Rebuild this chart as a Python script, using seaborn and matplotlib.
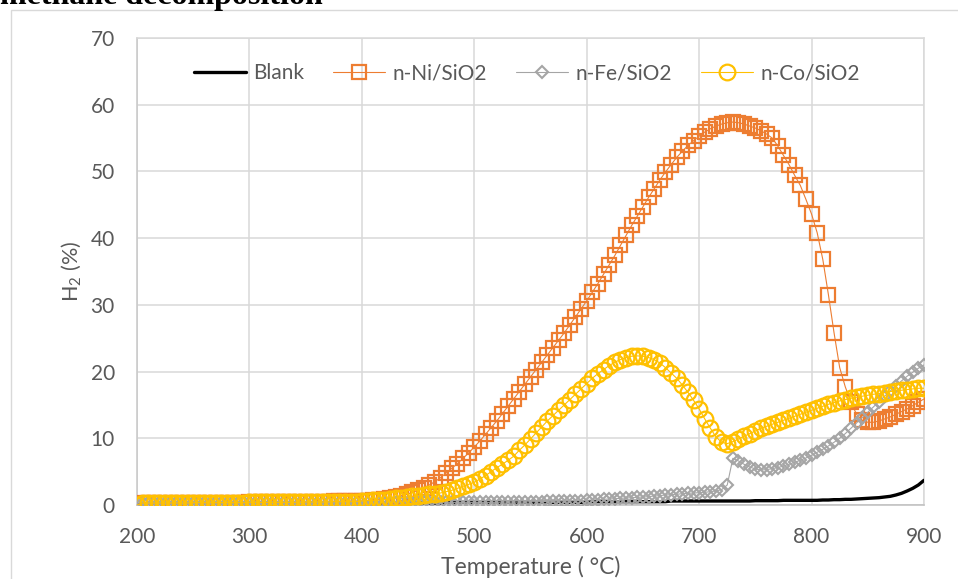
import matplotlib
matplotlib.use("Agg")
import matplotlib.pyplot as plt
from matplotlib.patches import Rectangle
import seaborn as sns

# Temperature grid (°C), sampled every 5 degrees
temperature = list(range(200, 905, 5))

# H2 concentration (%) for each catalyst run
blank = [
    0.0, 0.2, 0.2, 0.2, 0.2, 0.2, 0.2, 0.2, 0.2, 0.2,
    0.2, 0.2, 0.2, 0.2, 0.2, 0.2, 0.2, 0.2, 0.2, 0.2,
    0.3, 0.3, 0.3, 0.3, 0.3, 0.3, 0.3, 0.3, 0.3, 0.3,
    0.3, 0.3, 0.3, 0.3, 0.3, 0.3, 0.3, 0.3, 0.3, 0.3,
    0.3, 0.3, 0.3, 0.3, 0.3, 0.3, 0.3, 0.3, 0.3, 0.3,
    0.3, 0.3, 0.3, 0.3, 0.3, 0.4, 0.4, 0.4, 0.4, 0.4,
    0.4, 0.4, 0.4, 0.4, 0.4, 0.4, 0.4, 0.4, 0.4, 0.4,
    0.4, 0.4, 0.4, 0.4, 0.4, 0.4, 0.4, 0.4, 0.4, 0.4,
    0.5, 0.5, 0.5, 0.5, 0.5, 0.5, 0.5, 0.5, 0.5, 0.5,
    0.5, 0.5, 0.5, 0.5, 0.5, 0.6, 0.6, 0.6, 0.6, 0.6,
    0.6, 0.6, 0.6, 0.6, 0.6, 0.6, 0.6, 0.6, 0.6, 0.6,
    0.65, 0.65, 0.65, 0.65, 0.65, 0.7, 0.7, 0.7, 0.7, 0.7,
    0.7, 0.7, 0.75, 0.75, 0.8, 0.8, 0.85, 0.85, 0.9, 0.95,
    1.0, 1.05, 1.1, 1.2, 1.3, 1.5, 1.75, 2.1, 2.5, 3.0,
    3.7,
]

ni_sio2 = [
    0.0, 0.3, 0.3, 0.3, 0.3, 0.3, 0.3, 0.3, 0.3, 0.3,
    0.3, 0.3, 0.3, 0.3, 0.3, 0.35, 0.35, 0.35, 0.35, 0.35,
    0.4, 0.4, 0.4, 0.4, 0.4, 0.4, 0.45, 0.45, 0.45, 0.45,
    0.5, 0.5, 0.5, 0.5, 0.5, 0.55, 0.55, 0.55, 0.6, 0.6,
    0.6, 0.65, 0.7, 0.8, 0.9, 1.0, 1.2, 1.4, 1.6, 1.9,
    2.2, 2.6, 3.0, 3.5, 4.1, 4.8, 5.5, 6.2, 7.0, 7.8,
    8.7, 9.6, 10.6, 11.6, 12.6, 13.7, 14.8, 15.9, 17.0, 18.1,
    19.2, 20.3, 21.4, 22.5, 23.6, 24.7, 25.8, 27.0, 28.2, 29.4,
    30.6, 31.9, 33.2, 34.6, 36.0, 37.4, 38.9, 40.4, 41.9, 43.3,
    44.7, 46.1, 47.4, 48.7, 49.9, 51.0, 52.1, 53.0, 53.9, 54.6,
    55.3, 55.9, 56.4, 56.8, 57.1, 57.3, 57.4, 57.3, 57.1, 56.8,
    56.5, 56.1, 55.6, 55.0, 53.8, 52.4, 51.0, 49.4, 47.9, 45.8,
    43.6, 40.8, 36.8, 31.5, 25.8, 20.6, 17.7, 15.4, 13.6, 12.7,
    12.4, 12.4, 12.6, 12.9, 13.2, 13.6, 14.0, 14.4, 14.9, 15.4,
    15.9,
]

fe_sio2 = [
    0.0, 0.3, 0.3, 0.3, 0.3, 0.3, 0.3, 0.3, 0.3, 0.3,
    0.3, 0.3, 0.3, 0.3, 0.3, 0.3, 0.3, 0.3, 0.3, 0.3,
    0.3, 0.3, 0.3, 0.3, 0.3, 0.3, 0.3, 0.3, 0.3, 0.3,
    0.35, 0.35, 0.35, 0.35, 0.35, 0.35, 0.35, 0.35, 0.35, 0.35,
    0.35, 0.35, 0.35, 0.35, 0.35, 0.35, 0.35, 0.35, 0.35, 0.35,
    0.4, 0.4, 0.4, 0.4, 0.4, 0.4, 0.4, 0.4, 0.4, 0.4,
    0.4, 0.4, 0.4, 0.4, 0.4, 0.45, 0.45, 0.45, 0.45, 0.45,
    0.5, 0.5, 0.5, 0.55, 0.55, 0.6, 0.6, 0.6, 0.65, 0.65,
    0.7, 0.75, 0.8, 0.85, 0.9, 0.95, 1.0, 1.05, 1.1, 1.15,
    1.2, 1.25, 1.35, 1.4, 1.5, 1.55, 1.6, 1.7, 1.75, 1.8,
    1.85, 1.9, 2.0, 2.1, 2.3, 3.0, 7.0, 6.6, 6.1, 5.7,
    5.4, 5.25, 5.3, 5.45, 5.6, 5.85, 6.1, 6.4, 6.7, 7.05,
    7.45, 7.9, 8.35, 8.85, 9.4, 10.0, 10.7, 11.5, 12.3, 13.1,
    13.9, 14.7, 15.5, 16.3, 17.1, 17.9, 18.6, 19.3, 19.9, 20.5,
    21.0,
]

co_sio2 = [
    0.0, 0.3, 0.3, 0.3, 0.3, 0.3, 0.3, 0.3, 0.3, 0.3,
    0.35, 0.35, 0.35, 0.35, 0.35, 0.35, 0.35, 0.35, 0.35, 0.35,
    0.4, 0.4, 0.4, 0.4, 0.4, 0.4, 0.4, 0.4, 0.4, 0.4,
    0.45, 0.45, 0.45, 0.45, 0.45, 0.5, 0.5, 0.5, 0.5, 0.5,
    0.6, 0.65, 0.7, 0.75, 0.8, 0.9, 1.0, 1.1, 1.2, 1.3,
    1.4, 1.5, 1.6, 1.7, 1.8, 2.0, 2.2, 2.5, 2.8, 3.1,
    3.4, 3.9, 4.4, 5.0, 5.6, 6.1, 6.7, 7.3, 8.2, 9.0,
    9.9, 10.8, 11.7, 12.6, 13.4, 14.2, 15.0, 15.8, 16.6, 17.4,
    18.2, 19.0, 19.7, 20.3, 20.9, 21.4, 21.8, 22.1, 22.3, 22.35,
    22.3, 22.1, 21.8, 21.3, 20.6, 19.8, 19.0, 18.0, 16.9, 15.7,
    14.4, 12.9, 11.5, 10.2, 9.4, 9.2, 9.5, 9.9, 10.3, 10.7,
    11.1, 11.5, 11.8, 12.1, 12.4, 12.7, 13.0, 13.3, 13.6, 13.9,
    14.2, 14.5, 14.8, 15.1, 15.35, 15.6, 15.8, 16.0, 16.15, 16.3,
    16.45, 16.6, 16.7, 16.85, 17.0, 17.1, 17.2, 17.3, 17.4, 17.5,
    17.5,
]

x_ticks = [200, 300, 400, 500, 600, 700, 800, 900]
y_ticks = [0, 10, 20, 30, 40, 50, 60, 70]

sns.set_theme(style="white")
plt.rcParams["font.family"] = ["Lato", "DejaVu Sans"]
plt.rcParams["mathtext.default"] = "regular"

W, H = 958, 579
fig = plt.figure(figsize=(W / 100, H / 100), dpi=100)
ax = fig.add_axes([137 / W, 1 - 505 / H, (924 - 137) / W, (505 - 38) / H])

grid_col = "#D9D9D9"
text_col = "#595959"

# Outer chart border
fig.patches.append(Rectangle((11 / W, -0.1), 1.2, 1.1 - 10 / H,
                             transform=fig.transFigure, fill=False,
                             edgecolor=grid_col, linewidth=1.0))

# Section heading above the chart
fig.text(323 / W, 1 - 4 / H, "methane decomposition", ha="right",
         va="baseline", fontsize=23, fontweight="bold",
         family="Liberation Serif", color="black")

sns.lineplot(x=temperature, y=blank, ax=ax, color="black", linewidth=2.4,
             label="Blank", zorder=3)
sns.lineplot(x=temperature, y=ni_sio2, ax=ax, color="#ED7D31", linewidth=0.8,
             marker="s", markersize=9.5, markerfacecolor="none",
             markeredgecolor="#ED7D31", markeredgewidth=1.6,
             label="n-Ni/SiO2", zorder=4)
sns.lineplot(x=temperature, y=fe_sio2, ax=ax, color="#A5A5A5", linewidth=0.8,
             marker="D", markersize=6.3, markerfacecolor="none",
             markeredgecolor="#A5A5A5", markeredgewidth=1.5,
             label="n-Fe/SiO2", zorder=5)
sns.lineplot(x=temperature, y=co_sio2, ax=ax, color="#FFC000", linewidth=0.8,
             marker="o", markersize=11.3, markerfacecolor="none",
             markeredgecolor="#FFC000", markeredgewidth=1.6,
             label="n-Co/SiO2", zorder=6)

ax.set_xlim(200, 900)
ax.set_ylim(0, 70)
ax.set_xticks(x_ticks)
ax.set_yticks(y_ticks)
ax.grid(True, color=grid_col, linewidth=1.1)
ax.set_axisbelow(True)
for side in ["top", "right", "left", "bottom"]:
    ax.spines[side].set_color(grid_col)
    ax.spines[side].set_linewidth(1.1)
ax.spines["bottom"].set_color("#BFBFBF")
ax.spines["left"].set_color("#C8C8C8")

ax.tick_params(axis="both", length=0, labelsize=15, labelcolor=text_col)
ax.tick_params(axis="y", pad=16)
ax.tick_params(axis="x", pad=16)

ax.set_xlabel("Temperature ( °C)", fontsize=16.5, color=text_col, va="center")
ax.xaxis.set_label_coords(0.5, -(567 - 505) / (505 - 38))
ax.set_ylabel("H$_2$ (%)", fontsize=15.5, color=text_col, va="center")
ax.yaxis.set_label_coords(-(137 - 71) / (924 - 137), 0.5)

leg = ax.legend(loc="center", bbox_to_anchor=(527 / W, 1 - 73 / H),
                bbox_transform=fig.transFigure, ncol=4, frameon=False,
                fontsize=15, handlelength=2.5, handletextpad=0.35,
                columnspacing=1.4, borderaxespad=0)
for t in leg.get_texts():
    t.set_color(text_col)

fig.savefig("out.png", dpi=100)
